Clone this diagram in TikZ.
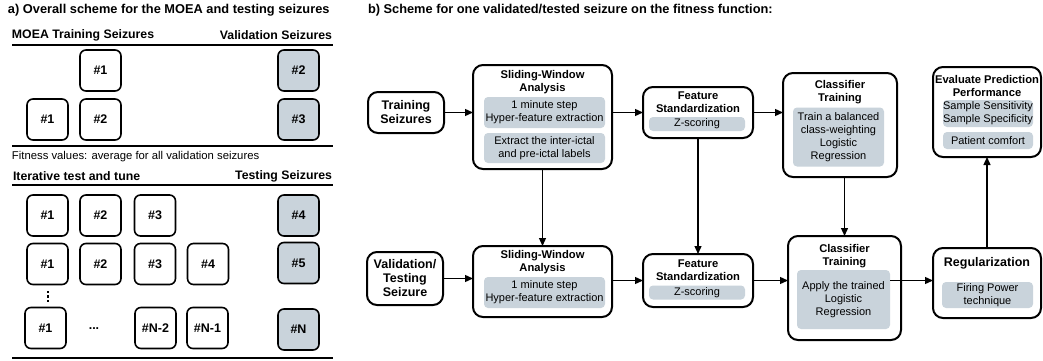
\documentclass[tikz,border=0pt]{standalone}
\usepackage{fontspec}
\setmainfont{Liberation Sans}
\usetikzlibrary{arrows.meta}
\definecolor{panelgray}{RGB}{201,211,219}
\begin{document}
\begin{tikzpicture}[x=1pt,y=-1pt,
  every node/.style={inner sep=0pt, outer sep=0pt},
  caption/.style={anchor=west, font=\bfseries\fontsize{12.8}{14}\selectfont},
  head/.style={font=\bfseries\fontsize{12.3}{14}\selectfont},
  note/.style={anchor=west, font=\fontsize{11.3}{13}\selectfont},
  rule/.style={line width=1.7pt},
  sz/.style={draw, line width=1.6pt, rounded corners=6pt, minimum width=41pt, minimum height=41pt, font=\bfseries\fontsize{12.5}{14}\selectfont},
  szval/.style={sz, fill=panelgray},
  stage/.style={draw, line width=2pt, rounded corners=10pt, fill=white},
  stagetitle/.style={align=center, font=\bfseries\fontsize{11.2}{13}\selectfont},
  detail/.style={fill=panelgray, rounded corners=4pt, align=center, font=\fontsize{11}{13.2}\selectfont},
  flow/.style={line width=1.3pt, -{Triangle[length=8pt,width=7pt]}},
]
\useasboundingbox (0,0) rectangle (1043,361);

% ---------------- a) MOEA scheme ----------------
\node[caption] (capa) at (8,10) {a) Overall scheme for the MOEA and testing seizures};

\node[head, anchor=west] (htrain) at (12,35) {MOEA Training Seizures};
\node[head, anchor=east] (hval) at (332,35) {Validation Seizures};
\draw[rule] (12,45) -- (333,45);

\node[sz] (r1a) at (100.5,70.5) {\#1};
\node[szval] (r1v) at (298.5,70.5) {\#2};
\node[sz] (r2a) at (47.5,119.5) {\#1};
\node[sz] (r2b) at (100.5,119.5) {\#2};
\node[szval] (r2v) at (298.5,119.5) {\#3};
\draw[rule] (12,146) -- (333,146);

\node[note] (fit) at (12,157) {Fitness values: average for all validation seizures};

\node[head, anchor=west] (hiter) at (13,176) {Iterative test and tune};
\node[head, anchor=east] (htest) at (332,176) {Testing Seizures};
\draw[rule] (12,185) -- (333,185);

\node[sz] (t1a) at (47.5,215.5) {\#1};
\node[sz] (t1b) at (100.5,215.5) {\#2};
\node[sz] (t1c) at (155,215.5) {\#3};
\node[szval] (t1v) at (298.5,215.5) {\#4};

\node[sz] (t2a) at (47.5,264) {\#1};
\node[sz] (t2b) at (100.5,264) {\#2};
\node[sz] (t2c) at (155,264) {\#3};
\node[sz] (t2d) at (208,264) {\#4};
\node[szval] (t2v) at (298.5,263) {\#5};

% vertical ellipsis between the rows
\foreach \yy in {293,297.5,302} \fill (47,\yy) rectangle ++(2.2,-2.2);

\node[sz] (t3a) at (45.5,328) {\#1};
\node[font=\bfseries\fontsize{12.5}{14}\selectfont] (t3dots) at (94,329) {...};
\node[sz] (t3c) at (155.5,328) {\#N-2};
\node[sz] (t3d) at (207.5,328) {\#N-1};
\node[szval] (t3v) at (298.5,329.5) {\#N};
\draw[rule] (12,358) -- (333,358);

% ---------------- b) fitness function pipeline ----------------
\node[caption] (capb) at (368,10) {b) Scheme for one validated/tested seizure on the fitness function:};

% training branch
\node[stage, minimum width=76pt, minimum height=41pt, align=center,
      font=\bfseries\fontsize{12.5}{14}\selectfont] (ts) at (406,112.5) {Training\\Seizures};

\node[stage, minimum width=139pt, minimum height=104pt] (sw1) at (542.5,117) {};
\node[stagetitle] (sw1t) at (542.5,82) {Sliding-Window\\Analysis};
\node[detail, minimum width=121pt, minimum height=31pt] (sw1a) at (544.5,112.5) {1 minute step\\Hyper-feature extraction};
\node[detail, minimum width=121pt, minimum height=30pt] (sw1b) at (544.5,148) {Extract the inter-ictal\\and pre-ictal labels};

\node[stage, minimum width=110pt, minimum height=51pt] (fs1) at (698,112.5) {};
\node[stagetitle] (fs1t) at (698,102) {Feature\\Standardization};
\node[detail, minimum width=96pt, minimum height=14pt] (fs1a) at (697,124) {Z-scoring};

\node[stage, minimum width=114pt, minimum height=104pt] (ct1) at (840,125) {};
\node[stagetitle] (ct1t) at (840,92.5) {Classifier\\Training};
\node[detail, minimum width=91pt, minimum height=59pt] (ct1a) at (838.5,137) {Train a balanced\\class-weighting\\Logistic\\Regression};

\node[stage, minimum width=108pt, minimum height=90pt] (ev) at (987,112) {};
\node[stagetitle] (evt) at (987,86) {Evaluate Prediction\\Performance};
\node[detail, minimum width=90pt, minimum height=27pt] (eva) at (988,113.5) {Sample Sensitivity\\Sample Specificity};
\node[detail, minimum width=90pt, minimum height=17pt] (evb) at (988,140.5) {Patient comfort};

% validation / testing branch
\node[stage, minimum width=76pt, minimum height=53pt, align=center,
      font=\bfseries\fontsize{12.5}{14}\selectfont] (vs) at (405,278.5) {Validation/\\Testing\\Seizure};

\node[stage, minimum width=139pt, minimum height=71pt] (sw2) at (542.5,281.5) {};
\node[stagetitle] (sw2t) at (542.5,262) {Sliding-Window\\Analysis};
\node[detail, minimum width=121pt, minimum height=31pt] (sw2a) at (544.5,292.5) {1 minute step\\Hyper-feature extraction};

\node[stage, minimum width=110pt, minimum height=53pt] (fs2) at (698,280.5) {};
\node[stagetitle] (fs2t) at (698,270.5) {Feature\\Standardization};
\node[detail, minimum width=96pt, minimum height=14pt] (fs2a) at (697,292.5) {Z-scoring};

\node[stage, minimum width=113pt, minimum height=104pt] (ct2) at (844.5,288) {};
\node[stagetitle] (ct2t) at (844.5,256) {Classifier\\Training};
\node[detail, minimum width=93pt, minimum height=59pt] (ct2a) at (843.5,299.5) {Apply the trained\\Logistic\\Regression};

\node[stage, minimum width=108pt, minimum height=70pt] (reg) at (987,283) {};
\node[font=\bfseries\fontsize{12.5}{14}\selectfont] (regt) at (987,263) {Regularization};
\node[detail, minimum width=91pt, minimum height=26pt] (rega) at (987.5,295) {Firing Power\\technique};

% connectors
\draw[flow] (ts.east) -- (ts.east -| sw1.west);
\draw[flow] (fs1.west -| sw1.east) -- (fs1.west);
\draw[flow] (fs1.east) -- (fs1.east -| ct1.west);
\draw[flow] (sw1.south) -- (sw2.north);
\draw[flow] (fs1.south) -- (fs2.north);
\draw[flow] (ct2.north |- ct1.south) -- (ct2.north);
\draw[flow] (vs.east) -- (vs.east -| sw2.west);
\draw[flow] (fs2.west -| sw2.east) -- (fs2.west);
\draw[flow] (fs2.east) -- (fs2.east -| ct2.west);
\draw[flow] (ct2a.east |- fs2.east) -- (reg.west |- fs2.east);
\draw[flow] (reg.north) -- (ev.south);
\end{tikzpicture}
\end{document}
